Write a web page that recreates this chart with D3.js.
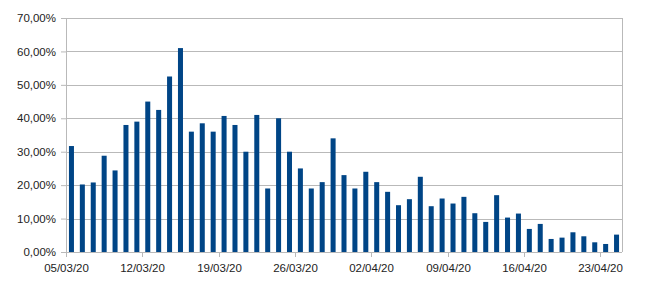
<!DOCTYPE html>
<html>
<head>
<meta charset="utf-8">
<script src="https://cdn.jsdelivr.net/npm/d3@7"></script>
<style>
  body { margin: 0; background: #fff; }
  svg { display: block; font-family: "Liberation Sans", Arial, sans-serif; }
</style>
</head>
<body>
<div id="chart"></div>
<script>
'use strict'

// daily values (%) from 05/03/20 to 24/04/20
const startDate = new Date(2020, 2, 5)
const values = [
    31.7, 20.2, 20.8, 28.8, 24.4, 38.0, 39.0, 45.0, 42.5, 52.5,
    61.0, 36.0, 38.5, 36.0, 40.7, 38.0, 30.0, 41.0, 19.0, 40.0,
    30.0, 25.0, 19.0, 20.9, 34.0, 23.0, 19.0, 24.0, 20.9, 18.0,
    14.0, 15.8, 22.5, 13.7, 16.0, 14.5, 16.5, 11.6, 9.0, 17.0,
    10.3, 11.5, 6.9, 8.4, 3.9, 4.3, 5.9, 4.7, 2.9, 2.4, 5.2
]
const yTicks = [0, 10, 20, 30, 40, 50, 60, 70]

const fmtDate = d3.timeFormat('%d/%m/%y')
const days = values.map((v, i) => d3.timeDay.offset(startDate, i))
const data = days.map((d, i) => ({ date: d, label: fmtDate(d), value: values[i] }))
const xTickLabels = data.filter((d, i) => i % 7 == 0).map(d => d.label)

////////////////////////////////////
//////////// svg setup /////////////
////////////////////////////////////

const svgWidth = 650, svgHeight = 294
const margin = { left: 66, right: 28, top: 18, bottom: 42 }
const width = svgWidth - margin.left - margin.right
const height = svgHeight - margin.top - margin.bottom

const svg = d3.select('#chart')
    .append('svg')
    .attr('width', svgWidth)
    .attr('height', svgHeight)
    .append('g')
    .attr('transform', `translate(${margin.left},${margin.top})`)

const x = d3.scaleBand()
    .domain(data.map(d => d.label))
    .range([0, width])
    .paddingInner(0.54)
    .paddingOuter(0.27)

const y = d3.scaleLinear()
    .domain([0, 70])
    .range([height, 0])

const gridColor = '#b9b9b9'

// gridlines
svg.append('g')
    .selectAll('line')
    .data(yTicks)
    .join('line')
    .attr('x1', 0)
    .attr('x2', width)
    .attr('y1', d => Math.round(y(d)) + 0.5)
    .attr('y2', d => Math.round(y(d)) + 0.5)
    .style('stroke', gridColor)

// right border
svg.append('line')
    .attr('x1', width + 0.5).attr('x2', width + 0.5)
    .attr('y1', 0).attr('y2', height)
    .style('stroke', gridColor)

// bars
svg.append('g')
    .selectAll('rect')
    .data(data)
    .join('rect')
    .attr('x', d => x(d.label))
    .attr('width', x.bandwidth())
    .attr('y', d => y(d.value))
    .attr('height', d => height - y(d.value))
    .style('fill', '#004586')

// y axis
const yAxis = svg.append('g')
    .call(d3.axisLeft(y)
        .tickValues(yTicks)
        .tickSize(5)
        .tickPadding(5)
        .tickFormat(d => d3.format('.2f')(d).replace('.', ',') + '%'))
yAxis.select('.domain').attr('d', `M-5,${height + 0.5}H0.5V0.5H-5`).style('stroke', gridColor)
yAxis.selectAll('.tick line').style('stroke', gridColor)
yAxis.selectAll('text').style('font-size', '11.5px').style('fill', '#222')

// x axis, ticks at the left edge of each week's first day
const xStep = x.step()
const xAxis = svg.append('g')
    .attr('transform', `translate(0,${height})`)
xAxis.append('line')
    .attr('x1', 0).attr('x2', width)
    .attr('y1', 0.5).attr('y2', 0.5)
    .style('stroke', gridColor)
const xt = xAxis.selectAll('.xtick')
    .data(xTickLabels)
    .join('g')
    .attr('class', 'xtick')
    .attr('transform', d => `translate(${Math.round(x(d) - (xStep - x.bandwidth()) / 2) + 0.5},0)`)
xt.append('line')
    .attr('y1', 0).attr('y2', 5)
    .style('stroke', gridColor)
xt.append('text')
    .attr('y', 20)
    .attr('text-anchor', 'middle')
    .style('font-size', '11.5px')
    .style('fill', '#222')
    .text(d => d)
</script>
</body>
</html>
